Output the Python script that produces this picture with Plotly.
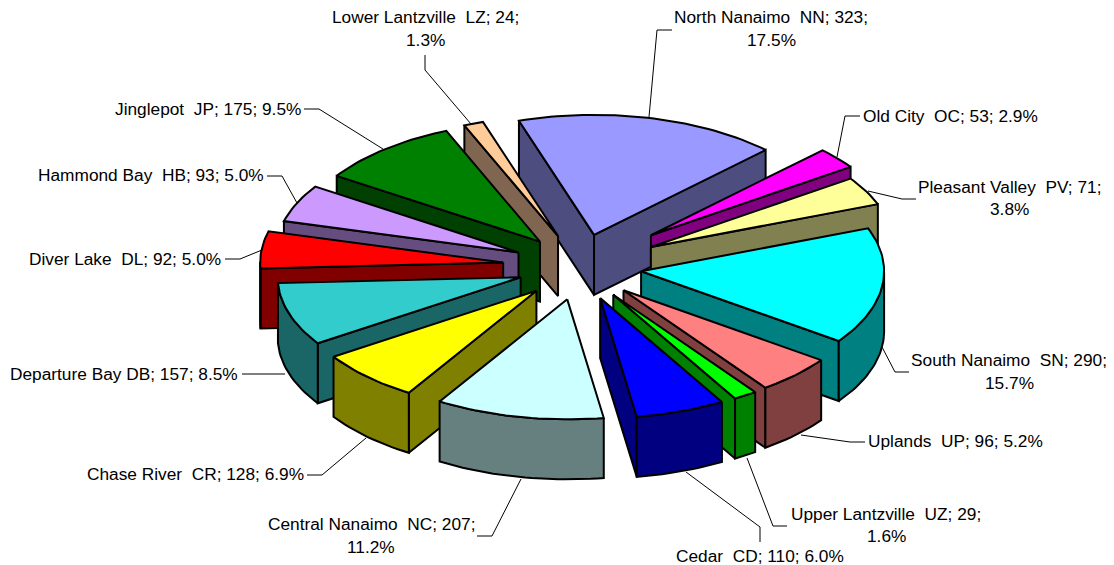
import math
import plotly.graph_objects as go

names = ["North Nanaimo", "Old City", "Pleasant Valley", "South Nanaimo", "Uplands",
         "Upper Lantzville", "Cedar", "Central Nanaimo", "Chase River", "Departure Bay",
         "Diver Lake", "Hammond Bay", "Jinglepot", "Lower Lantzville"]
codes = ["NN", "OC", "PV", "SN", "UP", "UZ", "CD", "NC", "CR", "DB", "DL", "HB", "JP", "LZ"]
values = [323, 53, 71, 290, 96, 29, 110, 207, 128, 157, 92, 93, 175, 24]
colors = ["#9999FF", "#FF00FF", "#FFFF99", "#00FFFF", "#FF8080", "#00FF00", "#0000FF",
          "#CCFFFF", "#FFFF00", "#33CCCC", "#FF0000", "#CC99FF", "#008000", "#FFCC99"]
walls = ["#4D4D80", "#800080", "#808050", "#008080", "#804040", "#008000", "#000080",
         "#668080", "#808000", "#1A6666", "#800000", "#664D80", "#004000", "#806650"]
explode = [1, 1.5, 1.3, 1, 1, 1, 1, 1, 1, 1, 1.24, 1.08, 1, 1]

# geometry of the projected pie, in page pixels
CX, CY, RX, RY, EX, EY, DEPTH, START = 579.6, 267, 243, 120, 62, 33, 60, -18
WIDTH, HEIGHT, BODY = 1114, 565, 8

# label placement: centre x, line y values, leader path
label_x = [771, 950, 1009, 1009, 955, 886, 760, 371, 195, 124, 125, 151, 208, 425]
label_y = [(17, 40), (116,), (187, 209), (360, 383), (441,), (514, 536), (556,),
           (524, 547), (474,), (374,), (259,), (175,), (109,), (17, 40)]
leader_x = [(672, 657, 649), (860, 845, 837), (916, 902, 868), (909, 895, 882), (865, 850, 801),
            (787, 773, 747), (760, 760, 686), (477, 492, 521), (307, 322, 366), (242, 255, 285),
            (225, 240, 262), (267, 282, 297), (304, 319, 383), (425, 425, 471)]
leader_y = [(30, 30, 117), (116, 116, 157), (199, 199, 191), (372, 372, 347), (442, 442, 435),
            (526, 526, 458), (542, 527, 472), (536, 536, 479), (475, 475, 438), (374, 374, 374),
            (259, 259, 250), (176, 176, 203), (109, 109, 149), (55, 70, 124)]

total = sum(values)
fig = go.Figure()


def poly(pts, fill, width=2):
    xs = [p[0] for p in pts] + [pts[0][0]]
    ys = [p[1] for p in pts] + [pts[0][1]]
    fig.add_trace(go.Scatter(x=xs, y=ys, mode="lines", fill="toself", fillcolor=fill,
                             line=dict(color="#000000", width=width), hoverinfo="skip",
                             showlegend=False))


slices = []
cum = 0
for i, v in enumerate(values):
    a0 = cum / total * 360 + START
    a1 = (cum + v) / total * 360 + START
    cum += v
    slices.append((math.cos(math.radians((a0 + a1) / 2)), i, a0, a1))

for _, i, a0, a1 in sorted(slices, key=lambda s: -s[0]):
    mid = math.radians((a0 + a1) / 2)
    ax = CX + EX * explode[i] * math.sin(mid)
    ay = CY - EY * explode[i] * math.cos(mid)
    n = max(4, int((a1 - a0) / 1.5))
    arc = []
    for k in range(n + 1):
        t = math.radians(a0 + (a1 - a0) * k / n)
        arc.append((ax + RX * math.sin(t), ay - RY * math.cos(t)))
    # radial walls facing the viewer, then the outer wall, then the top face
    if arc[0][0] < ax:
        poly([(ax, ay), arc[0], (arc[0][0], arc[0][1] + DEPTH), (ax, ay + DEPTH)], walls[i])
    if arc[-1][0] > ax:
        poly([(ax, ay), arc[-1], (arc[-1][0], arc[-1][1] + DEPTH), (ax, ay + DEPTH)], walls[i])
    front = [p for k, p in enumerate(arc)
             if (k < n and arc[k + 1][0] < p[0]) or (k > 0 and p[0] < arc[k - 1][0])]
    if len(front) > 1:
        poly(front + [(p[0], p[1] + DEPTH) for p in reversed(front)], walls[i])
    poly([(ax, ay)] + arc, colors[i])

for lx, ly in zip(leader_x, leader_y):
    fig.add_trace(go.Scatter(x=list(lx), y=list(ly), mode="lines",
                             line=dict(color="#000000", width=1), hoverinfo="skip",
                             showlegend=False))

annotations = []
for i, v in enumerate(values):
    pct = f"{v / total * 100:.1f}%"
    sep = "\u00a0" if codes[i] == "DB" else "\u00a0\u00a0"
    head = f"{names[i]}{sep}{codes[i]}; {v};"
    lines = [head, pct] if len(label_y[i]) == 2 else [f"{head} {pct}"]
    for txt, y in zip(lines, label_y[i]):
        annotations.append(dict(x=label_x[i], y=y, text=txt, showarrow=False, xanchor="center",
                                yanchor="middle", xref="x", yref="y",
                                font=dict(family="Liberation Sans", size=17.3, color="#000000")))

fig.update_layout(
    width=WIDTH - BODY, height=HEIGHT - BODY, margin=dict(l=0, r=0, t=0, b=0),
    paper_bgcolor="#FFFFFF", plot_bgcolor="#FFFFFF", showlegend=False,
    xaxis=dict(range=[BODY, WIDTH], visible=False, fixedrange=True),
    yaxis=dict(range=[HEIGHT, BODY], visible=False, fixedrange=True),
    annotations=annotations,
)
fig.write_html("out.html", config={"displayModeBar": False})
